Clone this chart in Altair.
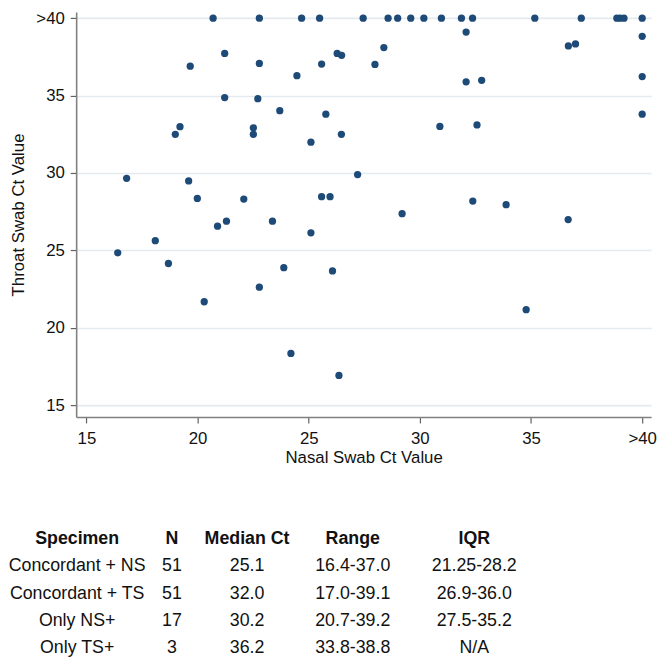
import altair as alt
import pandas as pd

# ---------------- scatter data (Ct values; 40 stands for ">40") ----------------
nasal_ct = [
    # concordant positives
    21.22, 19.67, 22.78, 25.58, 26.28, 26.48, 24.47, 21.22, 22.71, 23.70,
    25.77, 19.21, 19.00, 22.51, 22.51, 25.10, 26.47, 16.81, 19.60, 27.20,
    19.99, 22.08, 25.58, 25.96, 20.90, 21.30, 23.37, 25.10, 18.10, 16.41,
    18.69, 23.88, 26.07, 22.78, 20.30, 24.20, 26.36, 32.08, 28.38, 27.98,
    36.68, 37.00, 32.08, 32.78, 30.90, 32.57, 29.20, 32.38, 33.88, 36.67,
    34.78,
    # only nasal positive (throat >40)
    20.70, 22.78, 24.68, 25.49, 27.45, 28.57, 29.00, 29.59, 30.18, 30.97,
    31.87, 32.37, 35.17, 37.26, 38.86, 39.00, 39.18,
    # both >40
    40.0,
    # only throat positive (nasal >40)
    40.0, 40.0, 40.0,
]
throat_ct = [
    37.72, 36.90, 37.08, 37.04, 37.72, 37.60, 36.29, 34.87, 34.80, 34.03,
    33.80, 32.99, 32.50, 32.92, 32.50, 31.99, 32.50, 29.66, 29.49, 29.90,
    28.36, 28.32, 28.47, 28.47, 26.57, 26.89, 26.89, 26.14, 25.63, 24.85,
    24.16, 23.89, 23.68, 22.63, 21.69, 18.35, 16.93, 39.10, 38.10, 37.01,
    38.21, 38.34, 35.89, 35.99, 33.01, 33.11, 27.38, 28.19, 27.96, 27.00,
    21.18,
    40.0, 40.0, 40.0, 40.0, 40.0, 40.0, 40.0, 40.0, 40.0, 40.0,
    40.0, 40.0, 40.0, 40.0, 40.0, 40.0, 40.0,
    40.0,
    38.83, 36.23, 33.80,
]
tick_values = [15, 20, 25, 30, 35, 40]

# ---------------- summary table ----------------
table_columns = ["Specimen", "N", "Median Ct", "Range", "IQR"]
specimens = ["Concordant + NS", "Concordant + TS", "Only NS+", "Only TS+"]
n_values = ["51", "51", "17", "3"]
median_ct = ["25.1", "32.0", "30.2", "36.2"]
ct_ranges = ["16.4-37.0", "17.0-39.1", "20.7-39.2", "33.8-38.8"]
iqr_values = ["21.25-28.2", "26.9-36.0", "27.5-35.2", "N/A"]

# ---------------- styles ----------------
FONT = "Liberation Sans"
POINT_COLOR = "#1d4a77"
TEXT_COLOR = "#111111"
PLOT_W, PLOT_H = 582, 410
# pixel offsets (relative to plot's left edge) of the table columns
col_x = {"Specimen": 1, "N": 97, "Median Ct": 173, "Range": 280, "IQR": 403}
row_range = [539, 648.6]  # baselines of header and last row (relative to plot top)

scatter_df = pd.DataFrame({"ns": nasal_ct, "ts": throat_ct})

label_expr = "datum.value >= 40 ? '>40' : datum.label"

scatter = alt.Chart(scatter_df).mark_circle(
    size=54, color=POINT_COLOR, opacity=1
).encode(
    x=alt.X(
        "ns:Q",
        scale=alt.Scale(domain=[14.54, 40.4], nice=False, zero=False),
        axis=alt.Axis(
            values=tick_values, labelExpr=label_expr, title="Nasal Swab Ct Value",
            grid=False, tickSize=6, labelPadding=8, titlePadding=3,
            labelFlush=False, labelOverlap=False,
        ),
    ),
    y=alt.Y(
        "ts:Q",
        scale=alt.Scale(domain=[14.25, 40.4], nice=False, zero=False),
        axis=alt.Axis(
            values=tick_values, labelExpr=label_expr, title="Throat Swab Ct Value",
            grid=True, gridColor="#e3eaf0", gridWidth=1.6,
            tickSize=6, labelPadding=6, titlePadding=8.5,
            labelFlush=False, labelOverlap=False,
        ),
    ),
)

# long-format table data
header_rows = pd.DataFrame({
    "row": [table_columns[0]] * len(table_columns),
    "col": table_columns,
    "text": table_columns,
})
body_cols = {
    "Specimen": specimens, "N": n_values, "Median Ct": median_ct,
    "Range": ct_ranges, "IQR": iqr_values,
}
body_rows = pd.DataFrame([
    {"row": specimens[i], "col": c, "text": body_cols[c][i]}
    for c in table_columns for i in range(len(specimens))
])
row_domain = [table_columns[0]] + specimens
row_scale = alt.Scale(domain=row_domain, range=row_range, padding=0)

table_layers = []
for src, weight in ((header_rows, "bold"), (body_rows, "normal")):
    for c in table_columns:
        table_layers.append(
            alt.Chart(src).transform_filter(alt.datum.col == c).mark_text(
                font=FONT, fontSize=18, fontWeight=weight, color=TEXT_COLOR,
                align="center", baseline="alphabetic",
            ).encode(
                x=alt.value(col_x[c]),
                y=alt.Y("row:N", scale=row_scale, axis=None),
                text="text:N",
            )
        )

chart = alt.layer(scatter, *table_layers).resolve_scale(
    y="independent"
).properties(
    width=PLOT_W, height=PLOT_H,
    autosize=alt.AutoSizeParams(type="none"),
    padding={"left": 69, "top": 0, "right": 7, "bottom": 243},
).configure_view(
    stroke=None
).configure_axis(
    labelFont=FONT, titleFont=FONT, labelFontSize=17, titleFontSize=17,
    titleFontWeight="normal", labelColor=TEXT_COLOR, titleColor=TEXT_COLOR,
    domainColor="#808080", domainWidth=1.6, tickColor="#606060", tickWidth=1.2,
)

chart.save("out.html", embed_options={"renderer": "svg", "actions": False})
